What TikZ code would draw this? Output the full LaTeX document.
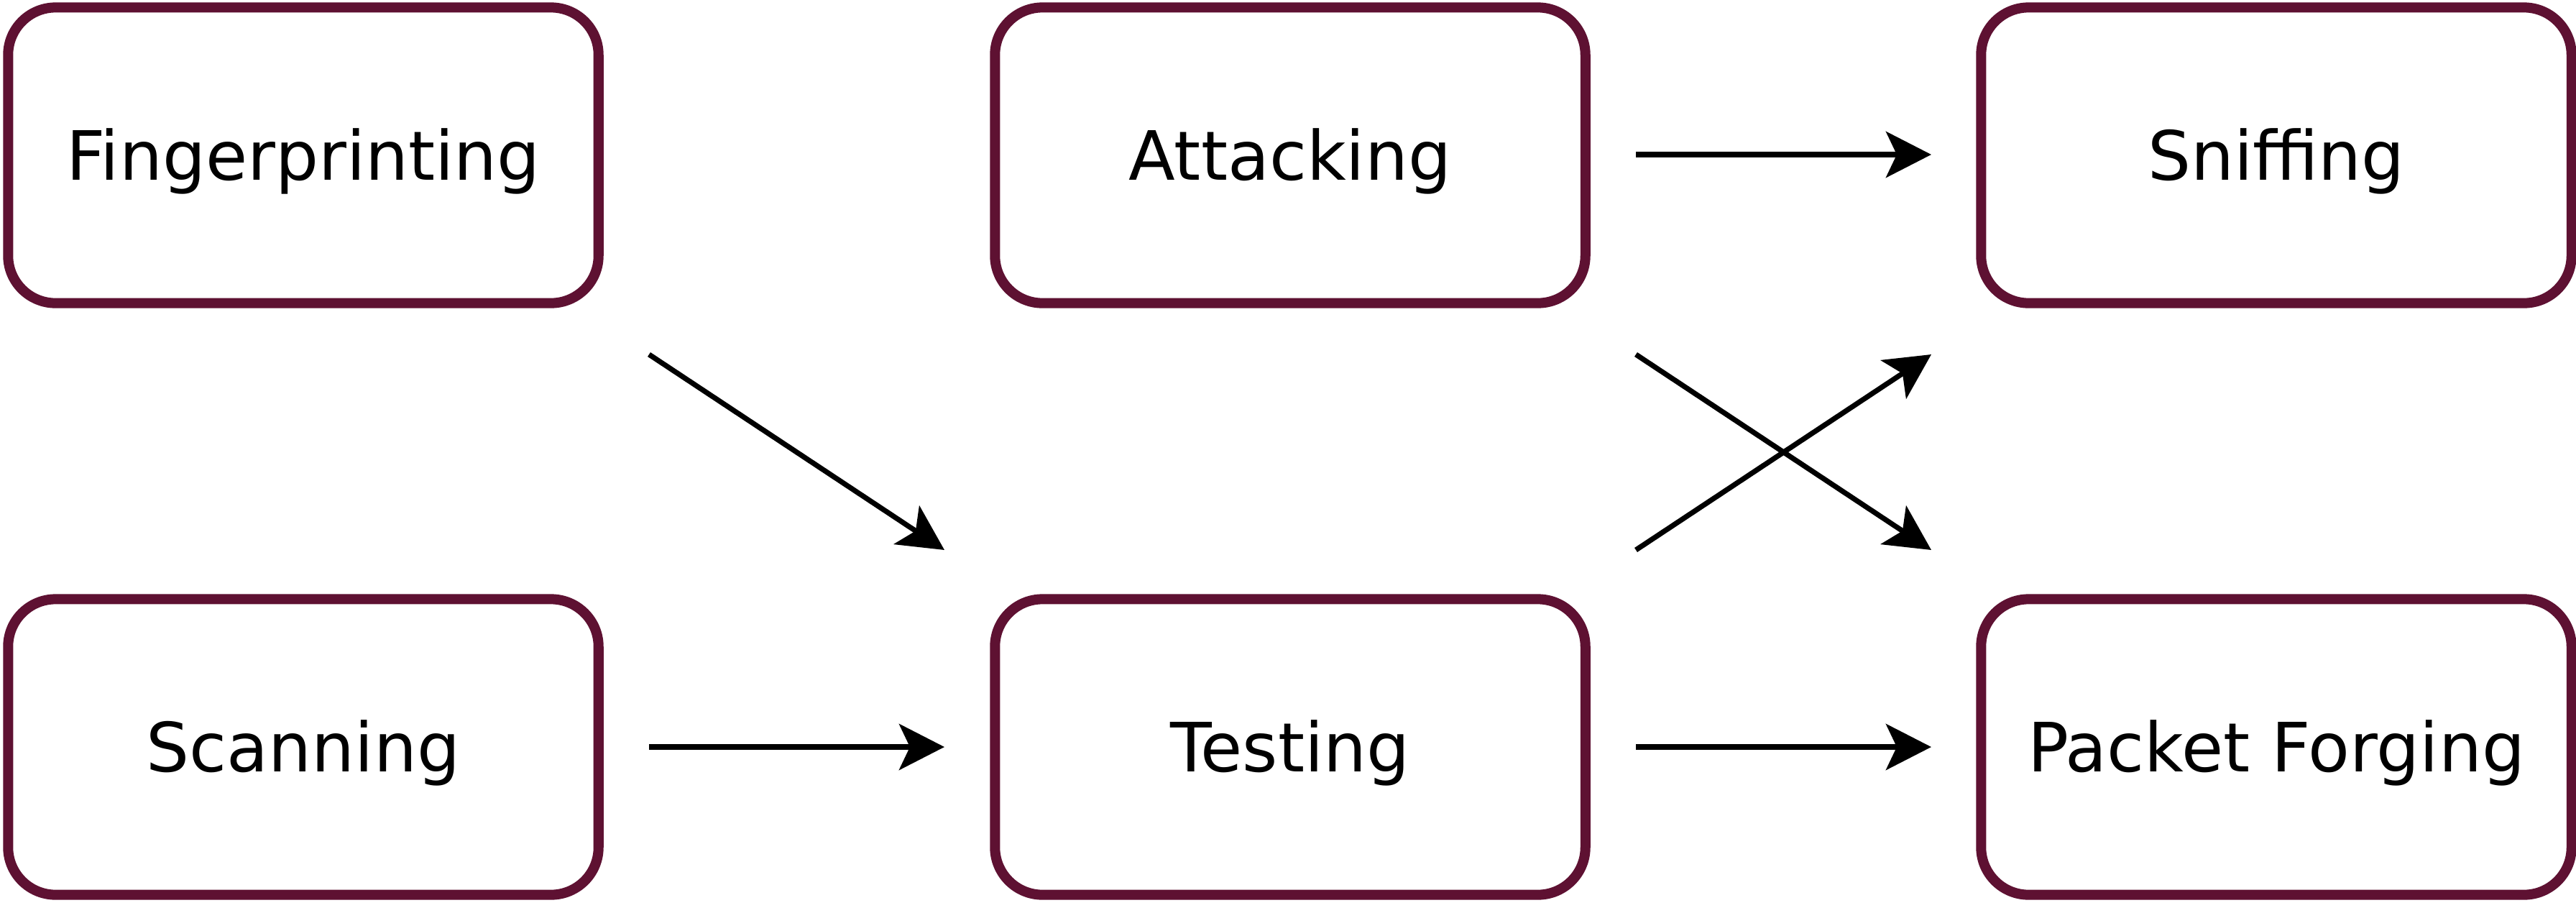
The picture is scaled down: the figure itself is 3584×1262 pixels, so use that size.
\documentclass[tikz,border=0pt]{standalone}
\usepackage{fontspec}
\setmainfont{DejaVu Sans}
\usetikzlibrary{arrows.meta}
\definecolor{boxline}{RGB}{94,17,50}
\tikzset{
  stepbox/.style={draw=boxline, line width=0.14cm, rounded corners=0.66cm,
    fill=white, minimum width=8.21cm, minimum height=4.11cm, inner sep=0pt,
    font=\fontsize{26.9pt}{30pt}\selectfont, text height=0.689cm, text depth=0pt,
    anchor=center},
  flow/.style={line width=0.072cm, black,
    -{Stealth[length=0.63cm, width=0.64cm, inset=0.15cm]}}
}
\begin{document}
\begin{tikzpicture}[x=0.01cm, y=-0.01cm]
\useasboundingbox (0,0) rectangle (3584,1262);
\node[stepbox] (fing) at (422,216) {Fingerprinting};
\node[stepbox] (att)  at (1795,216) {Attacking};
\node[stepbox] (sniff) at (3167,216) {Sniffing};
\node[stepbox] (scan) at (422,1039) {Scanning};
\node[stepbox] (test) at (1795,1039) {Testing};
\node[stepbox] (pack) at (3167,1039) {Packet Forging};
% connector ends
\coordinate (fingout) at (903,493);
\coordinate (testinA) at (1314,765);
\coordinate (scanout) at (903,1039);
\coordinate (testinB) at (1314,1039);
\coordinate (attoutA) at (2276,215);
\coordinate (sniffinA) at (2687,215);
\coordinate (attoutB) at (2276,493);
\coordinate (packinA) at (2687,765);
\coordinate (testoutA) at (2276,765);
\coordinate (sniffinB) at (2687,493);
\coordinate (testoutB) at (2276,1039);
\coordinate (packinB) at (2687,1039);
\draw[flow] (fingout) -- (testinA);
\draw[flow] (scanout) -- (testinB);
\draw[flow] (attoutA) -- (sniffinA);
\draw[flow] (attoutB) -- (packinA);
\draw[flow] (testoutA) -- (sniffinB);
\draw[flow] (testoutB) -- (packinB);
\end{tikzpicture}
\end{document}
